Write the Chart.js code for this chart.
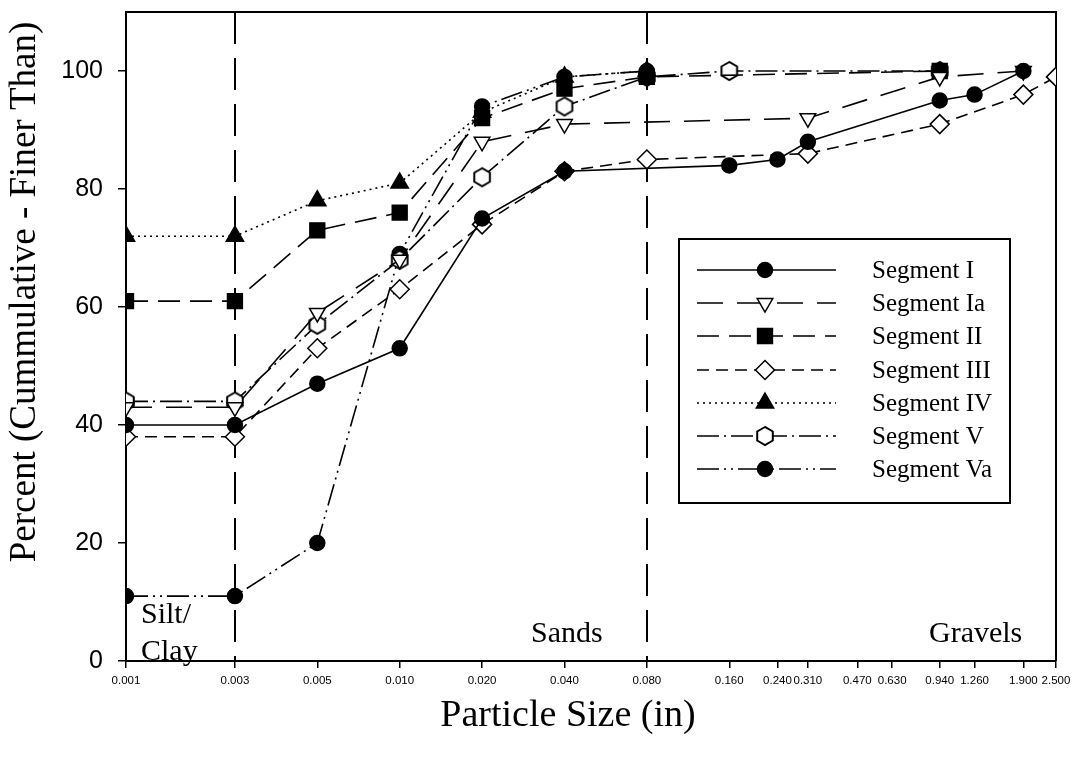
<!DOCTYPE html>
<html>
<head>
<meta charset="utf-8">
<script src="https://cdn.jsdelivr.net/npm/chart.js@4/dist/chart.umd.min.js"></script>
<style>
  body { margin: 0; background: #fff; }
  #wrap { width: 1073px; height: 759px; }
</style>
</head>
<body>
<div id="wrap"><canvas id="chart"></canvas></div>
<script>
// x ticks (particle size, in) and their printed labels
var tickVals = [0.001, 0.0025, 0.005, 0.01, 0.02, 0.04, 0.08, 0.16, 0.24, 0.31, 0.47, 0.63, 0.94, 1.26, 1.9, 2.5];
var tickLabels = ['0.001', '0.003', '0.005', '0.010', '0.020', '0.040', '0.080', '0.160', '0.240', '0.310', '0.470', '0.630', '0.940', '1.260', '1.900', '2.500'];
var yTicks = [0, 20, 40, 60, 80, 100];

// series
var segI_x = [0.001, 0.0025, 0.005, 0.01, 0.02, 0.04, 0.16, 0.24, 0.31, 0.94, 1.26, 1.9];
var segI_y = [40, 40, 47, 53, 75, 83, 84, 85, 88, 95, 96, 100];
var segIa_x = [0.001, 0.0025, 0.005, 0.01, 0.02, 0.04, 0.31, 0.94, 1.9];
var segIa_y = [43, 43, 59, 68, 88, 91, 92, 99, 100];
var segII_x = [0.001, 0.0025, 0.005, 0.01, 0.02, 0.04, 0.08, 0.94];
var segII_y = [61, 61, 73, 76, 92, 97, 99, 100];
var segIII_x = [0.001, 0.0025, 0.005, 0.01, 0.02, 0.04, 0.08, 0.31, 0.94, 1.9, 2.5];
var segIII_y = [38, 38, 53, 63, 74, 83, 85, 86, 91, 96, 99];
var segIV_x = [0.001, 0.0025, 0.005, 0.01, 0.02, 0.04, 0.08];
var segIV_y = [72, 72, 78, 81, 93, 99, 100];
var segV_x = [0.001, 0.0025, 0.005, 0.01, 0.02, 0.04, 0.08, 0.16, 0.94];
var segV_y = [44, 44, 57, 68, 82, 94, 99, 100, 100];
var segVa_x = [0.001, 0.0025, 0.005, 0.01, 0.02, 0.04, 0.08];
var segVa_y = [11, 11, 20, 69, 94, 99, 100];

var boundaries = [0.0025, 0.08];   // silt/clay | sands | gravels

var serif = '"Liberation Serif", "Times New Roman", serif';
var sans = '"Liberation Sans", Arial, sans-serif';

// hexagon marker (no built-in one)
var hex = document.createElement('canvas');
hex.width = 22; hex.height = 22;
(function(){
	var c = hex.getContext('2d');
	c.beginPath();
	for (var i = 0; i < 6; i++) {
		var a = Math.PI / 2 + i * Math.PI / 3;
		var px = 11 + Math.cos(a) * 9, py = 11 - Math.sin(a) * 9;
		if (i === 0) c.moveTo(px, py); else c.lineTo(px, py);
	}
	c.closePath();
	c.fillStyle = '#fff'; c.fill();
	c.lineWidth = 2; c.strokeStyle = '#000'; c.stroke();
})();

function pts(xs, ys){
	return xs.map(function(x, i){ return {x: x, y: ys[i]}; });
}

function series(label, xs, ys, dash, style, radius, filled, rotation){
	return {
		label: label,
		data: pts(xs, ys),
		borderColor: '#000',
		borderWidth: 1.6,
		borderDash: dash,
		backgroundColor: filled ? '#000' : '#fff',
		pointStyle: style,
		pointRadius: radius,
		pointRotation: rotation || 0,
		pointBorderColor: '#000',
		pointBackgroundColor: filled ? '#000' : '#fff',
		pointBorderWidth: 1.5,
		tension: 0,
		fill: false
	};
}

var datasets = [
	series('Segment I', segI_x, segI_y, [], 'circle', 7.5, true),
	series('Segment Ia', segIa_x, segIa_y, [26, 14], 'triangle', 9, false, 180),
	series('Segment II', segII_x, segII_y, [22, 10], 'rect', 10.5, true),
	series('Segment III', segIII_x, segIII_y, [12, 7], 'rectRot', 9.5, false),
	series('Segment IV', segIV_x, segIV_y, [2, 4], 'triangle', 10, true),
	series('Segment V', segV_x, segV_y, [22, 5, 2, 5], hex, 9, false),
	series('Segment Va', segVa_x, segVa_y, [22, 5, 2, 5, 2, 5], 'circle', 7.5, true)
];

var decor = {
	id: 'decor',
	beforeDatasetsDraw: function(chart){
		var ctx = chart.ctx, a = chart.chartArea, xs = chart.scales.x;
		ctx.save();
		ctx.strokeStyle = '#000';
		ctx.lineWidth = 2;
		ctx.setLineDash([32, 14]);
		boundaries.forEach(function(b){
			var px = Math.round(xs.getPixelForValue(b));
			ctx.beginPath(); ctx.moveTo(px, a.top); ctx.lineTo(px, a.bottom); ctx.stroke();
		});
		ctx.setLineDash([]);
		ctx.beginPath();
		ctx.moveTo(a.left, a.top); ctx.lineTo(a.right, a.top); ctx.lineTo(a.right, a.bottom);
		ctx.stroke();

		ctx.fillStyle = '#000';
		ctx.font = '30px ' + serif;
		ctx.textBaseline = 'alphabetic';
		ctx.textAlign = 'left';
		ctx.fillText('Silt/', 141, 623);
		ctx.fillText('Clay', 141, 660);
		ctx.fillText('Sands', 531, 642);
		ctx.fillText('Gravels', 929, 642);
		ctx.restore();
	},
	afterDraw: function(chart){
		var ctx = chart.ctx;
		ctx.save();
		// axis titles
		ctx.fillStyle = '#000';
		ctx.font = '38px ' + serif;
		ctx.textAlign = 'center';
		ctx.textBaseline = 'middle';
		ctx.fillText('Particle Size (in)', 568, 716);
		ctx.font = '37px ' + serif;
		ctx.translate(25, 292);
		ctx.rotate(-Math.PI / 2);
		ctx.fillText('Percent (Cummulative - Finer Than)', 0, 0);
		ctx.restore();

		// legend box
		ctx.save();
		ctx.fillStyle = '#fff';
		ctx.fillRect(679, 239, 331, 264);
		ctx.strokeStyle = '#000';
		ctx.lineWidth = 2;
		ctx.strokeRect(679, 239, 331, 264);
		ctx.font = '25px ' + serif;
		ctx.textAlign = 'left';
		ctx.textBaseline = 'middle';
		chart.data.datasets.forEach(function(ds, i){
			var y = Math.round(270 + i * 33.2);
			ctx.strokeStyle = '#000';
			ctx.lineWidth = ds.borderWidth;
			ctx.setLineDash(ds.borderDash);
			ctx.beginPath(); ctx.moveTo(697, y); ctx.lineTo(836, y); ctx.stroke();
			ctx.setLineDash([]);
			ctx.fillStyle = ds.pointBackgroundColor;
			ctx.strokeStyle = '#000';
			ctx.lineWidth = ds.pointBorderWidth;
			Chart.helpers.drawPoint(ctx, {
				pointStyle: ds.pointStyle,
				rotation: ds.pointRotation,
				radius: ds.pointRadius,
				borderWidth: ds.pointBorderWidth
			}, 765, y);
			ctx.fillStyle = '#000';
			ctx.fillText(ds.label, 872, y + 1);
		});
		ctx.restore();
	}
};

var ctx = document.getElementById('chart').getContext('2d');
var mychart = new Chart(ctx, {
	type: 'line',
	data: { datasets: datasets },
	options: {
		responsive: true,
		maintainAspectRatio: false,
		animation: false,
		layout: { padding: { left: 0, right: 17, top: 12, bottom: 0 } },
		plugins: { legend: { display: false }, tooltip: { enabled: false } },
		scales: {
			x: {
				type: 'logarithmic',
				min: 0.001,
				max: 2.5,
				bounds: 'data',
				afterBuildTicks: function(scale){
					scale.ticks = tickVals.map(function(v){ return {value: v}; });
				},
				afterFit: function(scale){
					scale.height = 98;
					scale.paddingLeft = 0; scale.paddingRight = 0;
				},
				border: { display: true, color: '#000', width: 2 },
				grid: { display: true, drawOnChartArea: false, drawTicks: true, tickLength: 7, color: '#000', lineWidth: 1.5 },
				ticks: {
					autoSkip: false, maxRotation: 0, minRotation: 0, padding: 6,
					color: '#000', font: { family: sans, size: 11.5 },
					callback: function(v, i){ return tickLabels[i]; }
				}
			},
			y: {
				type: 'linear',
				min: 0,
				max: 110,
				afterBuildTicks: function(scale){
					scale.ticks = yTicks.map(function(v){ return {value: v}; });
				},
				afterFit: function(scale){
					scale.width = 126;
					scale.paddingTop = 0; scale.paddingBottom = 0;
				},
				border: { display: true, color: '#000', width: 2 },
				grid: { display: true, drawOnChartArea: false, drawTicks: true, tickLength: 8, color: '#000', lineWidth: 1.5 },
				ticks: {
					padding: 15, color: '#000', font: { family: sans, size: 25 }
				}
			}
		}
	},
	plugins: [decor]
});
</script>
</body>
</html>
